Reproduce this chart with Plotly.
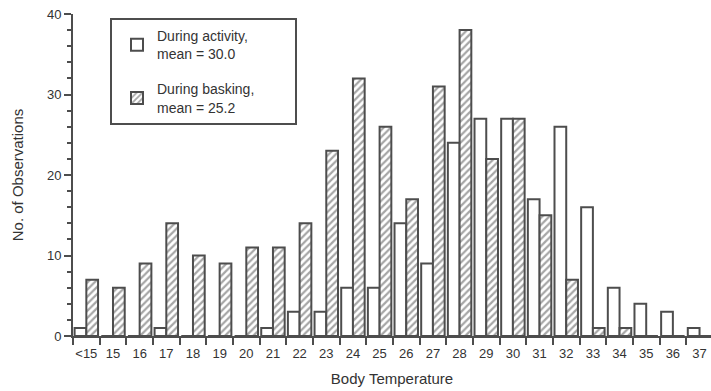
import plotly.graph_objects as go

# Body temperature classes (deg C) and observation counts
temps = ["<15", "15", "16", "17", "18", "19", "20", "21", "22", "23", "24", "25",
         "26", "27", "28", "29", "30", "31", "32", "33", "34", "35", "36", "37"]
activity = [1, 0, 0, 1, 0, 0, 0, 1, 3, 3, 6, 6, 14, 9, 24, 27, 27, 17, 26, 16, 6, 4, 3, 1]
basking = [7, 6, 9, 14, 10, 9, 11, 11, 14, 23, 32, 26, 17, 31, 38, 22, 27, 15, 7, 1, 1, 0, 0, 0]

INK = "#4d4d4d"
TEXT = "#333333"
FONT = "Liberation Sans, Arial, Helvetica, sans-serif"

fig = go.Figure()
fig.add_trace(go.Bar(
    x=temps, y=activity, name="During activity,<br>mean = 30.0",
    legendgroup="activity",
    marker=dict(color="white", line=dict(color=INK, width=2)),
))
fig.add_trace(go.Bar(
    x=temps, y=basking, name="During basking,<br>mean = 25.2",
    legendgroup="basking",
    marker=dict(color="white", line=dict(color=INK, width=2),
                pattern=dict(shape="/", fgcolor=INK, bgcolor="white",
                             size=5, solidity=0.45)),
))

W, H = 711, 391
ML, MR, MT, MB = 73, 0, 14, 55
pw, ph = W - ML - MR, H - MT - MB

def px_x(p):
    return (p - ML) / pw

def px_y(p):
    return (H - MB - p) / ph

# legend frame
fig.add_shape(type="rect", xref="paper", yref="paper",
              x0=px_x(111), x1=px_x(296), y0=px_y(124), y1=px_y(19),
              line=dict(color=INK, width=2), fillcolor="white", layer="below")

fig.update_layout(
    width=W, height=H,
    margin=dict(l=ML, r=MR, t=MT, b=MB),
    paper_bgcolor="white", plot_bgcolor="white",
    barmode="group", bargap=0.12, bargroupgap=0.0,
    font=dict(family=FONT, color=TEXT, size=13),
    showlegend=True,
    legend=dict(x=px_x(117), y=px_y(20), xanchor="left", yanchor="top",
                bgcolor="rgba(0,0,0,0)", borderwidth=0,
                font=dict(size=14, color=TEXT), tracegroupgap=14,
                traceorder="grouped"),
    xaxis=dict(
        type="category", range=[-0.5, 23.43],
        showline=True, linecolor=INK, linewidth=2,
        ticks="outside", tickson="boundaries", ticklen=7, tickwidth=2,
        tickcolor=INK, showgrid=False, zeroline=False, tickangle=0,
        ticklabelstandoff=4,
        tickfont=dict(size=13, color=TEXT),
        title=dict(text="Body Temperature", font=dict(size=15, color=TEXT),
                   standoff=14),
    ),
    yaxis=dict(
        range=[0, 40], tickvals=[0, 10, 20, 30, 40],
        showline=True, linecolor=INK, linewidth=2,
        ticks="outside", ticklen=7, tickwidth=2, tickcolor=INK,
        minor=dict(dtick=2, ticks="outside", ticklen=4, tickwidth=1.5,
                   tickcolor=INK),
        showgrid=False, zeroline=False,
        tickfont=dict(size=13, color=TEXT),
        title=dict(text="No. of Observations", font=dict(size=15, color=TEXT),
                   standoff=20),
    ),
)

fig.write_html("out.html")
